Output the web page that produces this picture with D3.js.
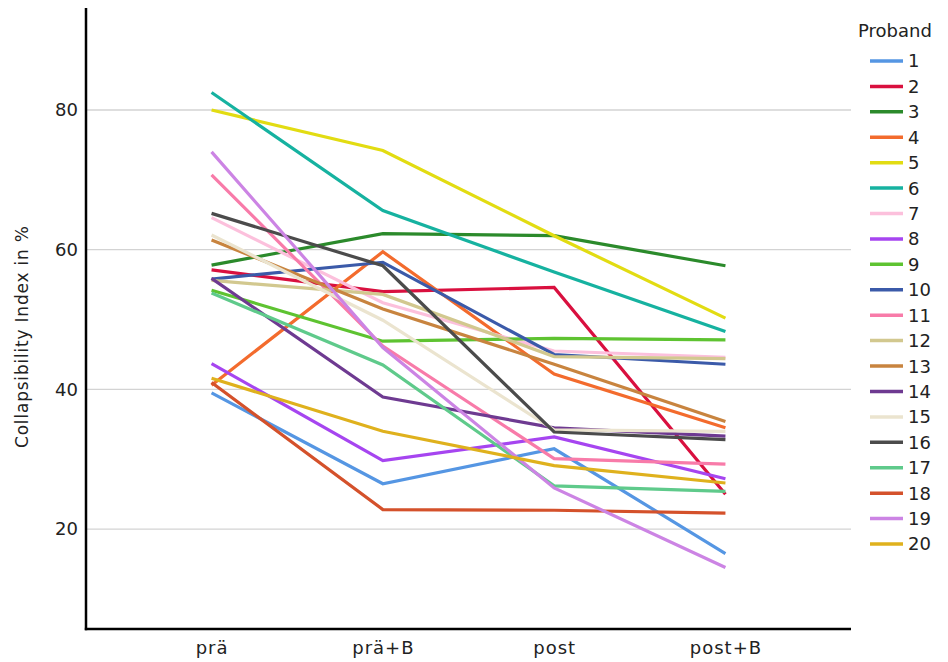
<!DOCTYPE html>
<html>
<head>
<meta charset="utf-8">
<script src="https://cdn.jsdelivr.net/npm/d3@7"></script>
<style>
  body { margin: 0; background: #fff; }
  text { font-family: "DejaVu Sans", sans-serif; fill: #222; }
</style>
</head>
<body>
<svg id="chart" width="948" height="662"></svg>
<script>
// time points
var phases = ["prä", "prä+B", "post", "post+B"];
var probands = d3.range(1, 21);

// Collapsibility Index (%) per proband 1..20 at each time point
var prae  = [39.5, 57.1, 57.8, 40.6, 80.0, 82.5, 64.6, 43.7, 54.2, 55.8, 70.7, 55.6, 61.4, 55.9, 62.1, 65.2, 53.8, 41.0, 74.0, 41.6];
var praeB = [26.5, 54.0, 62.3, 59.7, 74.2, 65.6, 52.4, 29.8, 46.9, 58.2, 46.2, 53.6, 51.5, 38.9, 49.9, 57.7, 43.5, 22.8, 46.0, 34.0];
var post  = [31.5, 54.6, 62.0, 42.2, 62.0, 56.8, 45.5, 33.2, 47.3, 45.0, 30.1, 44.7, 43.6, 34.5, 34.2, 33.9, 26.2, 22.7, 25.9, 29.1];
var postB = [16.5, 25.0, 57.7, 34.5, 50.2, 48.3, 44.6, 27.2, 47.1, 43.6, 29.3, 44.4, 35.4, 33.3, 34.0, 32.8, 25.4, 22.3, 14.5, 26.6];

var colors = ["#5596e3", "#d9103f", "#2b8a2b", "#f36b2d", "#e2dc12", "#16b2a0", "#fcc0dc", "#a645f0", "#5ec331", "#3b5aa9",
              "#f87ba9", "#d2c88f", "#c8843f", "#6e3a91", "#ebe4cf", "#4b4b4b", "#5fca8b", "#d4512b", "#cc84e4", "#dfb11d"];

var yTicks = [20, 40, 60, 80];

var margin = {top: 8, right: 97, bottom: 33, left: 86}
  , width = 948
  , height = 662

var svg = d3.select("#chart");

var x = d3.scalePoint()
    .domain(phases)
    .range([margin.left, width - margin.right])
    .padding(0.733);

var y = d3.scaleLinear()
    .domain([5.7, 94.6])
    .range([height - margin.bottom, margin.top]);

var color = d3.scaleOrdinal()
    .domain(probands)
    .range(colors);

var series = probands.map(function(p, i) {
  return { id: p, values: [prae[i], praeB[i], post[i], postB[i]] };
});

// gridlines
svg.append("g")
  .selectAll("line")
  .data(yTicks)
  .enter().append("line")
    .attr("x1", margin.left)
    .attr("x2", width - margin.right)
    .attr("y1", function(d) { return y(d); })
    .attr("y2", function(d) { return y(d); })
    .style("stroke", "#d3d3d3")
    .style("stroke-width", 1.3);

// y axis
var yAxis = svg.append("g")
    .attr("transform", "translate(" + margin.left + ",0)")
    .call(d3.axisLeft(y).tickValues(yTicks).tickSize(0).tickPadding(8));
yAxis.select(".domain").remove();
yAxis.selectAll("text")
    .style("font-size", "18px")
    .style("font-family", "DejaVu Sans, sans-serif")
    .style("fill", "#222");

svg.append("line")
    .attr("x1", margin.left).attr("x2", margin.left)
    .attr("y1", margin.top).attr("y2", height - margin.bottom + 1.2)
    .style("stroke", "#000").style("stroke-width", 2.5);

// x axis
var xAxis = svg.append("g")
    .attr("transform", "translate(0," + (height - margin.bottom) + ")")
    .call(d3.axisBottom(x).tickSize(0).tickPadding(12));
xAxis.select(".domain").remove();
xAxis.selectAll("text")
    .style("font-size", "18px")
    .style("letter-spacing", "1px")
    .style("font-family", "DejaVu Sans, sans-serif")
    .style("fill", "#222");

svg.append("line")
    .attr("x1", margin.left - 1.2).attr("x2", width - margin.right)
    .attr("y1", height - margin.bottom).attr("y2", height - margin.bottom)
    .style("stroke", "#000").style("stroke-width", 2.5);

// axis title
svg.append("text")
    .attr("transform", "translate(28," + 337 + ") rotate(-90)")
    .attr("text-anchor", "middle")
    .attr("textLength", 222)
    .attr("lengthAdjust", "spacing")
    .style("font-size", "17px")
    .text("Collapsibility Index in %");

// lines
var line = d3.line()
    .x(function(d, i) { return x(phases[i]); })
    .y(function(d) { return y(d); });

svg.append("g")
  .selectAll("path")
  .data(series)
  .enter().append("path")
    .attr("d", function(d) { return line(d.values); })
    .style("fill", "none")
    .style("stroke", function(d) { return color(d.id); })
    .style("stroke-width", 3.2)
    .style("stroke-linejoin", "miter");

// legend
var legend = svg.append("g")
    .attr("transform", "translate(858,0)");

legend.append("text")
    .attr("x", 0)
    .attr("y", 37)
    .style("font-size", "18px")
    .text("Proband");

var item = legend.selectAll(".item")
    .data(probands)
  .enter().append("g")
    .attr("class", "item")
    .attr("transform", function(d, i) { return "translate(0," + (61 + i * 25.42) + ")"; });

item.append("line")
    .attr("x1", 12).attr("x2", 45)
    .style("stroke", function(d) { return color(d); })
    .style("stroke-width", 3.5);

item.append("text")
    .attr("x", 50)
    .attr("dy", "0.36em")
    .style("font-size", "18px")
    .text(function(d) { return d; });
</script>
</body>
</html>
